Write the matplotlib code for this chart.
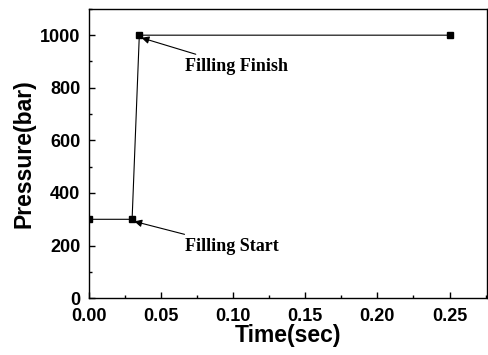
import matplotlib
matplotlib.use("Agg")
import matplotlib.pyplot as plt
from matplotlib.ticker import MultipleLocator

# Veri
zaman = [0.0, 0.03, 0.035, 0.25]
basinc = [300, 300, 1000, 1000]

plt.rcParams['font.family'] = 'Liberation Sans'

fig = plt.figure(figsize=(4.88, 3.55), dpi=100)
ax = fig.add_axes([0.182, 0.16, 0.816, 0.815])

ax.plot(zaman, basinc, color='black', linewidth=0.8, marker='s', markersize=4)

ax.set_xlim(0, 0.276)
ax.set_ylim(0, 1100)
ax.xaxis.set_major_locator(MultipleLocator(0.05))
ax.xaxis.set_minor_locator(MultipleLocator(0.025))
ax.yaxis.set_major_locator(MultipleLocator(200))
ax.yaxis.set_minor_locator(MultipleLocator(100))
ax.tick_params(which='both', direction='in', width=1)
ax.tick_params(which='major', length=4, labelsize=13)
ax.tick_params(which='minor', length=2)
ax.tick_params(axis='y', which='major', pad=6)
ax.tick_params(axis='x', which='major', pad=7)
ax.xaxis.set_major_formatter(plt.FormatStrFormatter('%.2f'))
for lbl in ax.get_xticklabels() + ax.get_yticklabels():
    lbl.set_fontweight('bold')
for s in ax.spines.values():
    s.set_linewidth(1)

ax.set_xlabel('Time(sec)', fontsize=16.5, fontweight='bold', labelpad=-1)
ax.set_ylabel('Pressure(bar)', fontsize=16.5, fontweight='bold', labelpad=3)

ax.annotate('Filling Finish', xy=(0.0365, 990), xytext=(0.067, 880),
            fontsize=13, fontweight='bold', family='Liberation Serif',
            va='center', ha='left',
            arrowprops=dict(arrowstyle='-|>', color='black', lw=0.8,
                            shrinkA=3, shrinkB=0, mutation_scale=11))
ax.annotate('Filling Start', xy=(0.0315, 292), xytext=(0.067, 196),
            fontsize=13, fontweight='bold', family='Liberation Serif',
            va='center', ha='left',
            arrowprops=dict(arrowstyle='-|>', color='black', lw=0.8,
                            shrinkA=3, shrinkB=0, mutation_scale=11))

fig.savefig('out.png', dpi=100)
